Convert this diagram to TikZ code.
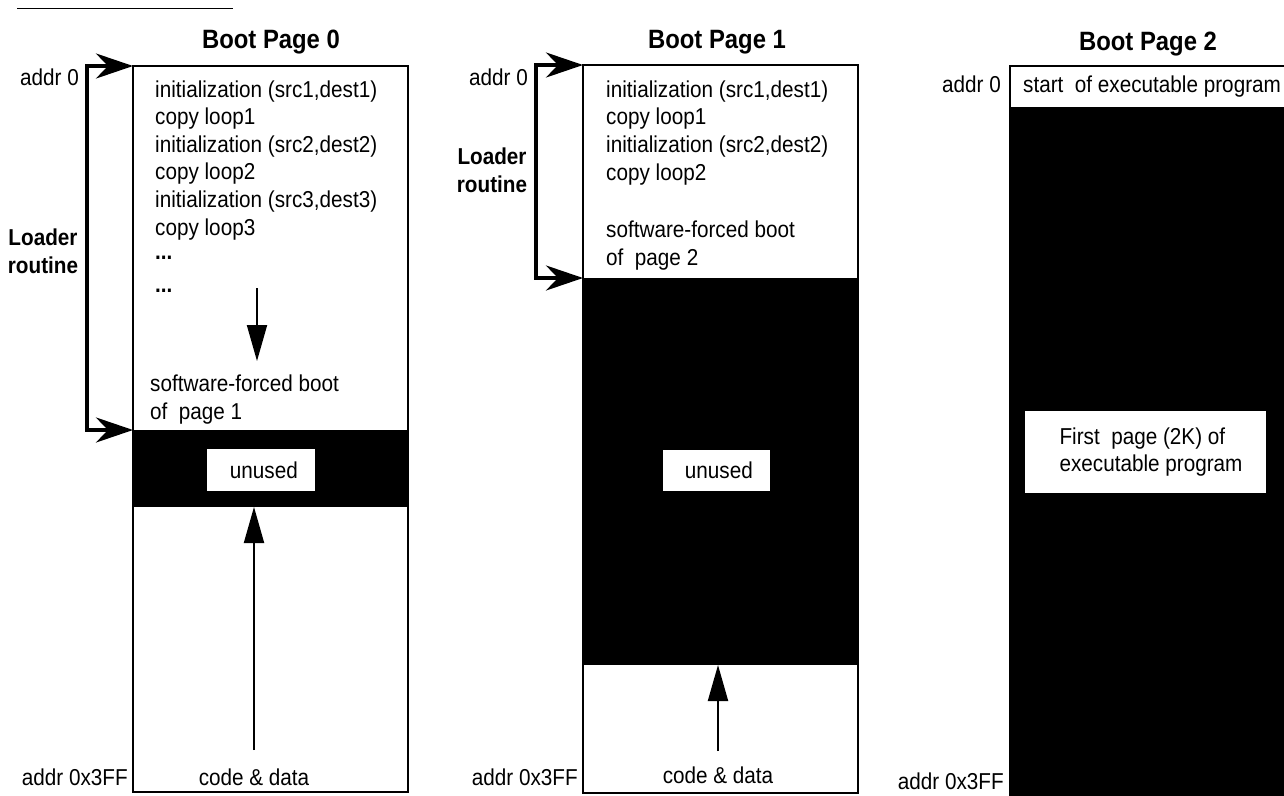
\documentclass[tikz,border=0pt]{standalone}
\usepackage{fontspec}
\setmainfont{Liberation Sans}[FakeStretch=0.9]
\usetikzlibrary{arrows.meta}
\newcommand{\bodyfont}{\fontsize{23}{27.6}\selectfont}
\newcommand{\ttlfont}{\fontsize{26.5}{30}\selectfont\bfseries}

\begin{document}
\begin{tikzpicture}[x=1pt,y=-1pt,
  pagebox/.style={draw,line width=2.5pt,fill=white,anchor=north west,inner sep=0,outer sep=0},
  band/.style={fill=black,anchor=north west,inner sep=0,outer sep=0},
  hole/.style={fill=white,inner sep=0,align=center,font=\bodyfont},
  txt/.style={anchor=base west,inner sep=0,align=left,font=\bodyfont},
  ttl/.style={anchor=base,inner sep=0,font=\ttlfont},
  addr/.style={anchor=base east,inner sep=0,font=\bodyfont},
  data/.style={anchor=base,inner sep=0,font=\bodyfont},
  loader/.style={inner sep=0,align=center,font=\bodyfont\bfseries},
  bracket/.style={line width=4pt,{Stealth[length=37pt,width=25pt,inset=12pt]}-{Stealth[length=37pt,width=25pt,inset=12pt]}},
  flow/.style={line width=2pt,-{Triangle[length=36pt,width=20pt]}}]
  \useasboundingbox (0,0) rectangle (1284,795);
  \draw[line width=0.8pt] (17,8) -- (233,8);
  % boot page 0
  \node[ttl] (t0) at (271,48) {Boot Page 0};
  \node[pagebox,minimum width=275pt,minimum height=726pt] (p0) at (133,66) {};
  \node[band,minimum width=275pt,minimum height=77pt] (p0band) at (133,430) {};
  \node[hole,minimum width=108pt,minimum height=42pt] (p0free) at (261,470) {\ unused};
  % multi-line nodes sit on their last baseline
  \node[txt] (p0copy) at (155,235) {initialization (src1,dest1)\\copy loop1\\initialization (src2,dest2)\\copy loop2\\initialization (src3,dest3)\\copy loop3};
  \node[txt,font=\bodyfont\bfseries] (p0dots1) at (155,259) {...};
  \node[txt,font=\bodyfont\bfseries] (p0dots2) at (155,292) {...};
  \node[txt] (p0boot) at (150,419) {software-forced boot\\of\ \ page 1};
  \node[data] (p0data) at (254,785) {code \& data};
  \node[addr] (p0a0) at (79,85) {addr 0};
  \node[addr] (p0a1) at (128,785) {addr 0x3FF};
  \node[loader] (p0ld) at (43,251) {Loader\\routine};
  \coordinate (p0s) at (257,288);
  \coordinate (p0e) at (257,361);
  \draw[flow] (p0s) -- (p0e);
  \draw[flow] ([yshift=18pt]p0data.north) -- (p0data.north |- p0band.south);
  \draw[bracket] (p0.north west) -- ++(-46,0) |- (p0band.north west);
  % boot page 1
  \node[ttl] (t1) at (717,48) {Boot Page 1};
  \node[pagebox,minimum width=275pt,minimum height=728pt] (p1) at (583,65) {};
  \node[band,minimum width=275pt,minimum height=387pt] (p1band) at (583,278) {};
  \node[hole,minimum width=107pt,minimum height=41pt] (p1free) at (716,470) {\ unused};
  \node[txt] (p1copy) at (606,180) {initialization (src1,dest1)\\copy loop1\\initialization (src2,dest2)\\copy loop2};
  \node[txt] (p1boot) at (606,265) {software-forced boot\\of\ \ page 2};
  \node[data] (p1data) at (718,783) {code \& data};
  \node[addr] (p1a0) at (528,85) {addr 0};
  \node[addr] (p1a1) at (578,785) {addr 0x3FF};
  \node[loader] (p1ld) at (492,170) {Loader\\routine};
  \draw[flow] ([yshift=15pt]p1data.north) -- (p1data.north |- p1band.south);
  \draw[bracket] (p1.north west) -- ++(-47,0) |- (p1band.north west);
  % boot page 2
  \node[ttl] (t2) at (1148,50) {Boot Page 2};
  \node[pagebox,minimum width=280pt,minimum height=732pt] (p2) at (1010,66) {};
  \node[band,minimum width=280pt,minimum height=690pt] (p2band) at (1010,107) {};
  \node[txt] (p2start) at (1023,92) {start\ \ of executable program};
  \node[hole,align=left,minimum width=241pt,minimum height=82pt] (p2first) at (1145,452) {\hspace*{12pt}First\ \ page (2K) of\\\hspace*{12pt}executable program};
  \node[addr] (p2a0) at (1001,92) {addr 0};
  \node[addr] (p2a1) at (1004,789) {addr 0x3FF};
\end{tikzpicture}
\end{document}
